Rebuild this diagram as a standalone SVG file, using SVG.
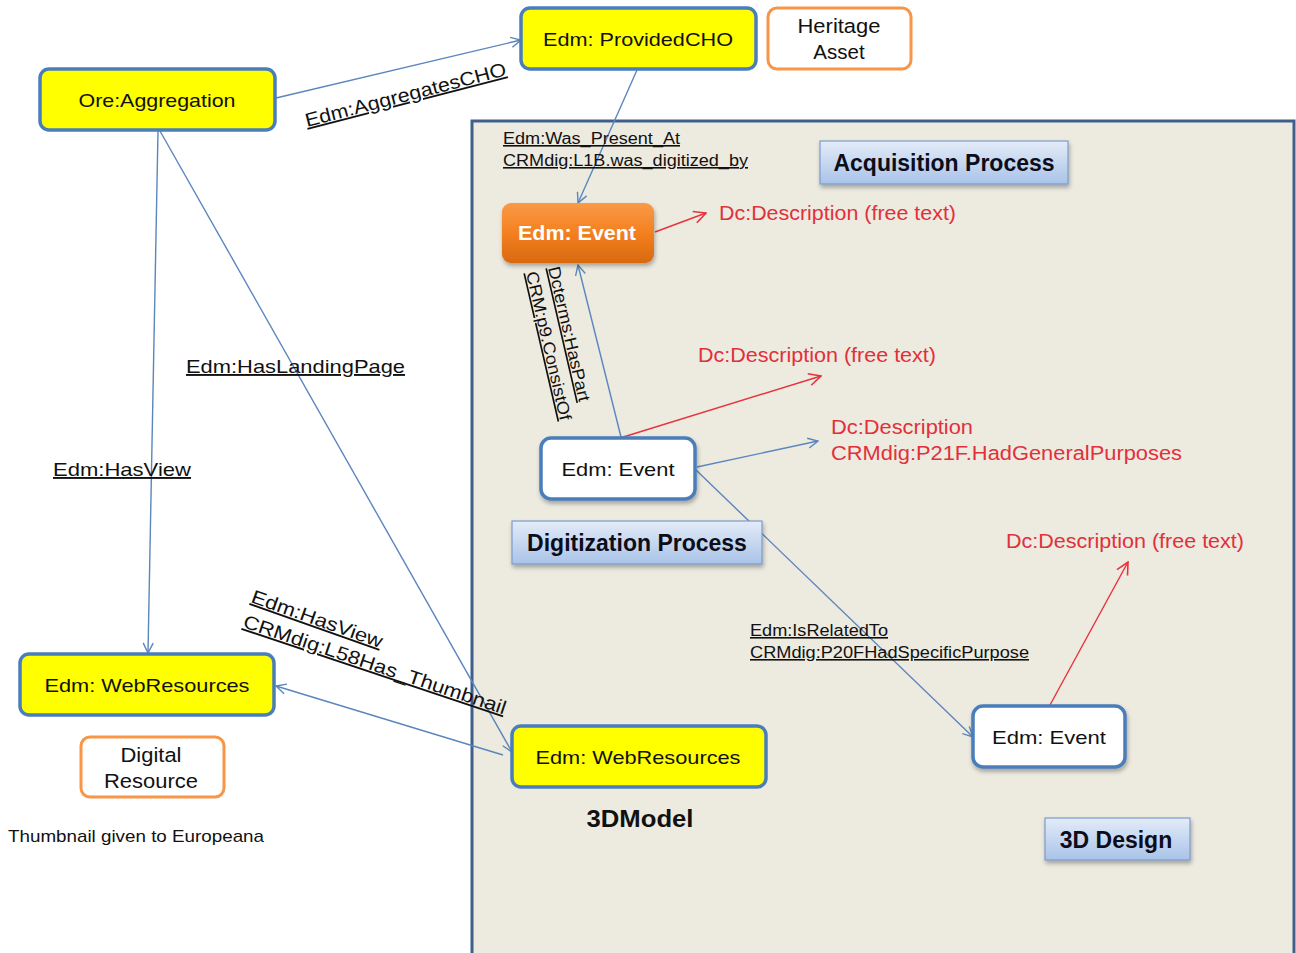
<svg xmlns="http://www.w3.org/2000/svg" width="1296" height="953" viewBox="0 0 1296 953">
<style>
.t{font-family:"Liberation Sans",Arial,sans-serif;fill:#111}
.n{font-size:19px;text-anchor:middle}
.n2{font-size:20.5px;text-anchor:middle}
.lb{font-size:19px;text-decoration:underline}
.sm{font-size:16px;text-decoration:underline}
.red{font-family:"Liberation Sans",Arial,sans-serif;font-size:20px;fill:#E2303B}
.hdr{font-size:23px;font-weight:bold;text-anchor:middle;fill:#0d0d1a}
.yel{fill:#FFFF00;stroke:#4A7EBB;stroke-width:3.5}
.wht{fill:#fff;stroke:#4A7EBB;stroke-width:3.5}
.org{fill:#fff;stroke:#F79646;stroke-width:3}
.tag{fill:url(#gb);stroke:#7C9CCB;stroke-width:1.2}
.cb{fill:none;stroke:#5B86BD;stroke-width:1.4}
.cr{fill:none;stroke:#E8323C;stroke-width:1.4}
</style>
<defs>
<linearGradient id="gb" x1="0" y1="0" x2="0" y2="1"><stop offset="0" stop-color="#E3ECF8"/><stop offset="1" stop-color="#A9C3E8"/></linearGradient>
<linearGradient id="go" x1="0" y1="0" x2="0" y2="1"><stop offset="0" stop-color="#FA9A46"/><stop offset="0.5" stop-color="#F38020"/><stop offset="1" stop-color="#D9690F"/></linearGradient>
<filter id="sh" x="-10%" y="-10%" width="130%" height="140%"><feDropShadow dx="1" dy="3" stdDeviation="2" flood-color="#000" flood-opacity="0.3"/></filter>
<marker id="ab" viewBox="0 0 12 12" refX="11" refY="6" markerWidth="12" markerHeight="12" markerUnits="userSpaceOnUse" orient="auto"><path d="M1,1 L11,6 L1,11" fill="none" stroke="#5B86BD" stroke-width="1.4"/></marker>
<marker id="ar" viewBox="0 0 14 14" refX="13" refY="7" markerWidth="14" markerHeight="14" markerUnits="userSpaceOnUse" orient="auto"><path d="M1,1 L13,7 L1,13" fill="none" stroke="#E8323C" stroke-width="1.6"/></marker>
</defs>
<rect width="1296" height="953" fill="#fff"/>
<g id="panel">
<rect x="472" y="121" width="822" height="850" fill="#EDEAE0" stroke="#3F5F8C" stroke-width="3"/>
</g>
<g id="connectors">
<line class="cb" x1="276" y1="98" x2="521" y2="40" marker-end="url(#ab)"/>
<line class="cb" x1="637" y1="70" x2="578" y2="203" marker-end="url(#ab)"/>
<line class="cb" x1="621" y1="437" x2="578" y2="265" marker-end="url(#ab)"/>
<line class="cb" x1="158" y1="131" x2="148" y2="653" marker-end="url(#ab)"/>
<line class="cb" x1="160" y1="131" x2="512" y2="752" marker-end="url(#ab)"/>
<line class="cb" x1="503" y1="755" x2="276" y2="686" marker-end="url(#ab)"/>
<line class="cb" x1="696" y1="470" x2="973" y2="737" marker-end="url(#ab)"/>
<line class="cb" x1="697" y1="467" x2="818" y2="441" marker-end="url(#ab)"/>
<line class="cr" x1="655" y1="232" x2="706" y2="213" marker-end="url(#ar)"/>
<line class="cr" x1="620" y1="438" x2="821" y2="376" marker-end="url(#ar)"/>
<line class="cr" x1="1050" y1="705" x2="1128" y2="562" marker-end="url(#ar)"/>
<text class="t lb" transform="translate(307,127) rotate(-14.5)" textLength="207" lengthAdjust="spacingAndGlyphs">Edm:AggregatesCHO</text>
<text class="t sm" x="503" y="144" textLength="177" lengthAdjust="spacingAndGlyphs">Edm:Was_Present_At</text>
<text class="t sm" x="503" y="166" textLength="245" lengthAdjust="spacingAndGlyphs">CRMdig:L1B.was_digitized_by</text>
<text class="t sm" transform="translate(548,268) rotate(77)" style="font-size:17px" textLength="138" lengthAdjust="spacingAndGlyphs">Dcterms:HasPart</text>
<text class="t sm" transform="translate(526,273) rotate(77)" style="font-size:17px" textLength="152" lengthAdjust="spacingAndGlyphs">CRM:p9.ConsistOf</text>
<text class="t lb" x="186" y="373" textLength="219" lengthAdjust="spacingAndGlyphs">Edm:HasLandingPage</text>
<text class="t lb" x="53" y="476" textLength="138" lengthAdjust="spacingAndGlyphs">Edm:HasView</text>
<text class="t lb" transform="translate(250,602) rotate(19.5)" textLength="138" lengthAdjust="spacingAndGlyphs">Edm:HasView</text>
<text class="t lb" transform="translate(242,627) rotate(18.5)" textLength="276" lengthAdjust="spacingAndGlyphs">CRMdig:L58Has_Thumbnail</text>
<text class="t sm" x="750" y="636" textLength="138" lengthAdjust="spacingAndGlyphs">Edm:IsRelatedTo</text>
<text class="t sm" x="750" y="658" textLength="279" lengthAdjust="spacingAndGlyphs">CRMdig:P20FHadSpecificPurpose</text>
</g>
<g id="ore-aggregation">
<rect class="yel" x="40" y="69" width="235" height="61" rx="9"/>
<text class="t n" x="157" y="107" textLength="157" lengthAdjust="spacingAndGlyphs">Ore:Aggregation</text>
</g>
<g id="provided-cho">
<rect class="yel" x="521" y="8" width="235" height="61" rx="9"/>
<text class="t n" x="638" y="46" textLength="190" lengthAdjust="spacingAndGlyphs">Edm: ProvidedCHO</text>
</g>
<g id="heritage-asset">
<rect class="org" x="768" y="8" width="143" height="61" rx="9"/>
<text class="t n2" x="839" y="33" textLength="83" lengthAdjust="spacingAndGlyphs">Heritage</text>
<text class="t n2" x="839" y="59">Asset</text>
</g>
<g id="event-acquisition">
<rect x="502" y="203" width="152" height="60" rx="9" fill="url(#go)" filter="url(#sh)"/>
<text class="t" x="577" y="240" text-anchor="middle" style="font-size:20px;font-weight:bold;fill:#fff" textLength="118" lengthAdjust="spacingAndGlyphs">Edm: Event</text>
</g>
<g id="desc-acq">
<text class="red" x="719" y="220" textLength="237" lengthAdjust="spacingAndGlyphs">Dc:Description (free text)</text>
</g>
<g id="acquisition-process">
<rect class="tag" x="820" y="141" width="248" height="43" filter="url(#sh)"/>
<text class="t hdr" x="944" y="171">Acquisition Process</text>
</g>
<g id="event-digitization">
<rect class="wht" x="541" y="438" width="154" height="61" rx="10" filter="url(#sh)"/>
<text class="t n" x="618" y="476" textLength="113" lengthAdjust="spacingAndGlyphs">Edm: Event</text>
</g>
<g id="desc-dig">
<text class="red" x="698" y="362" textLength="238" lengthAdjust="spacingAndGlyphs">Dc:Description (free text)</text>
</g>
<g id="desc-purpose">
<text class="red" x="831" y="434" textLength="142" lengthAdjust="spacingAndGlyphs">Dc:Description</text>
<text class="red" x="831" y="460" textLength="351" lengthAdjust="spacingAndGlyphs">CRMdig:P21F.HadGeneralPurposes</text>
</g>
<g id="digitization-process">
<rect class="tag" x="512" y="521" width="250" height="43" filter="url(#sh)"/>
<text class="t hdr" x="637" y="551">Digitization Process</text>
</g>
<g id="event-design">
<rect class="wht" x="973" y="706" width="152" height="61" rx="10" filter="url(#sh)"/>
<text class="t n" x="1049" y="744" textLength="114" lengthAdjust="spacingAndGlyphs">Edm: Event</text>
</g>
<g id="desc-design">
<text class="red" x="1006" y="548" textLength="238" lengthAdjust="spacingAndGlyphs">Dc:Description (free text)</text>
</g>
<g id="design-3d">
<rect class="tag" x="1045" y="818" width="145" height="42" filter="url(#sh)"/>
<text class="t hdr" x="1116" y="848">3D Design</text>
</g>
<g id="webresources-left">
<rect class="yel" x="20" y="654" width="254" height="61" rx="9"/>
<text class="t n" x="147" y="692" textLength="205" lengthAdjust="spacingAndGlyphs">Edm: WebResources</text>
</g>
<g id="digital-resource">
<rect class="org" x="81" y="737" width="143" height="60" rx="9"/>
<text class="t n2" x="151" y="762" textLength="61" lengthAdjust="spacingAndGlyphs">Digital</text>
<text class="t n2" x="151" y="788" textLength="94" lengthAdjust="spacingAndGlyphs">Resource</text>
</g>
<g id="thumbnail-note">
<text class="t" x="8" y="842" style="font-size:17px" textLength="256" lengthAdjust="spacingAndGlyphs">Thumbnail given to Europeana</text>
</g>
<g id="webresources-3d">
<rect class="yel" x="512" y="726" width="254" height="61" rx="9"/>
<text class="t n" x="638" y="764" textLength="205" lengthAdjust="spacingAndGlyphs">Edm: WebResources</text>
</g>
<g id="model-3d">
<text class="t" x="640" y="827" text-anchor="middle" style="font-size:23px;font-weight:bold" textLength="107" lengthAdjust="spacingAndGlyphs">3DModel</text>
</g>
</svg>
